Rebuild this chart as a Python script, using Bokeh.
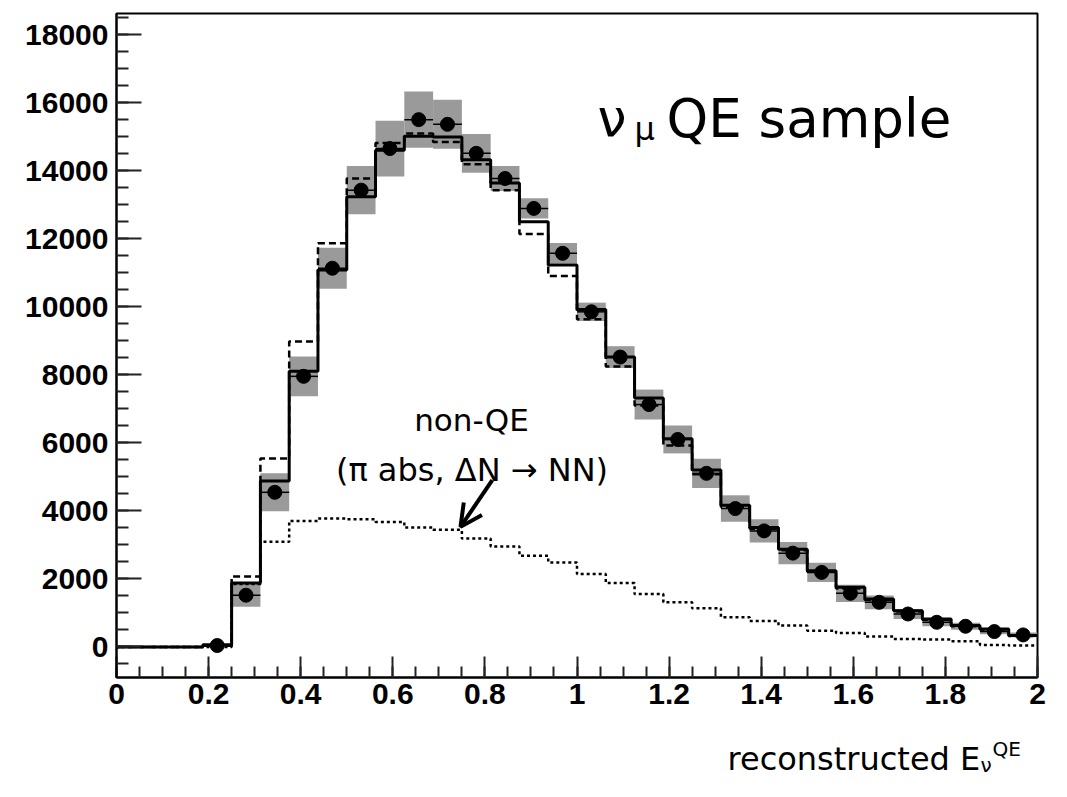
import numpy as np
from bokeh.plotting import figure
from bokeh.layouts import column
from bokeh.models import (Range1d, SingleIntervalTicker, CustomJSTickFormatter,
                          Label, Arrow, OpenHead)
from bokeh.embed import file_html
from bokeh.resources import INLINE

# Binning of reconstructed neutrino energy (GeV): 32 bins from 0 to 2
bin_width = 0.0625
n_bins = 32

# Observed events (black points); first bins are empty
data_counts = [None, None, None, 40, 1520, 4544, 7953, 11131, 13427, 14650,
               15500, 15362, 14510, 13770, 12890, 11570, 9850, 8520, 7124,
               6098, 5101, 4066, 3410, 2756, 2190, 1574, 1310, 967, 723, 606,
               450, 352]

# Systematic uncertainty on the observed events (grey band, +/-)
data_syst = [None, None, None, 0, 340, 560, 585, 600, 710, 820, 830, 720,
             570, 370, 300, 300, 270, 320, 440, 410, 430, 390, 340, 330, 280,
             255, 200, 150, 120, 100, 80, 70]

# Tuned MC prediction (solid)
mc_tuned = [0, 0, 0, 60, 1880, 4876, 8100, 11082, 13232, 14600, 15010, 14990,
            14323, 13640, 12500, 11229, 9920, 8520, 7320, 6117, 5199, 4163,
            3508, 2873, 2240, 1750, 1407, 1065, 820, 626, 528, 332]

# Nominal MC prediction (dashed)
mc_nominal = [0, 0, 0, 30, 2070, 5540, 8980, 11864, 13770, 14815, 15090,
              14843, 14190, 13427, 12137, 10906, 9630, 8246, 7095, 5922, 5072,
              4120, 3470, 2840, 2210, 1720, 1380, 1040, 800, 610, 510, 320]

# Non-QE background component (dotted)
mc_nonqe = [0, 0, 0, 0, 1850, 3088, 3703, 3772, 3752, 3674, 3508, 3440, 3187,
            2951, 2678, 2482, 2140, 1876, 1554, 1310, 1134, 870, 760, 626, 478,
            410, 302, 234, 214, 166, 59, 38]


def arr(vals):
    return np.array([np.nan if v is None else v for v in vals], dtype=float)


edges = np.arange(n_bins + 1) * bin_width
left, right = edges[:-1], edges[1:]
centers = 0.5 * (left + right)

d = arr(data_counts)
ds = arr(data_syst)

p = figure(width=1067, height=720, output_backend="svg", toolbar_location=None,
           x_range=Range1d(0, 2), y_range=Range1d(-900, 18620),
           min_border_left=116, min_border_right=30, min_border_top=13,
           min_border_bottom=43)
p.background_fill_color = "white"
p.border_fill_color = "white"
p.outline_line_color = "black"
p.outline_line_width = 2
p.xgrid.visible = False
p.ygrid.visible = False

# Axes: ROOT-style inward ticks
p.xaxis.ticker = SingleIntervalTicker(interval=0.2, num_minor_ticks=4)
p.yaxis.ticker = SingleIntervalTicker(interval=2000, num_minor_ticks=4)
fmt_code = "return String(Number(tick.toFixed(3)));"
p.xaxis.formatter = CustomJSTickFormatter(code=fmt_code)
p.yaxis.formatter = CustomJSTickFormatter(code=fmt_code)
for ax, maj, mnr in ((p.xaxis, 21, 11), (p.yaxis, 25, 12)):
    ax.major_tick_in = maj
    ax.major_tick_out = 0
    ax.minor_tick_in = mnr
    ax.minor_tick_out = 0
    ax.major_tick_line_width = 2
    ax.minor_tick_line_width = 2
    ax.major_tick_line_color = "#222222"
    ax.minor_tick_line_color = "#222222"
    ax.axis_line_width = 2
    ax.axis_line_color = "black"
    ax.major_label_text_font = "Liberation Sans"
    ax.major_label_text_font_style = "bold"
    ax.major_label_text_font_size = "30px"
    ax.major_label_text_color = "black"
p.xaxis.major_label_standoff = 6
p.yaxis.major_label_standoff = 8

# Systematic band on the observed points
p.quad(left=left, right=right, top=d + ds, bottom=d - ds,
       fill_color="#9a9a9a", line_color=None)

step_x = edges
def step_y(vals):
    v = np.array(vals, dtype=float)
    return np.append(v, v[-1])

p.step(step_x, step_y(mc_nonqe), mode="after", line_color="black",
       line_width=2.5, line_dash="3 3")
p.step(step_x, step_y(mc_nominal), mode="after", line_color="black",
       line_width=2.5, line_dash="7 4")
p.step(step_x, step_y(mc_tuned), mode="after", line_color="black",
       line_width=3)

# Observed points with bin-width bars
p.segment(x0=left, x1=right, y0=d, y1=d, line_color="black", line_width=1.5)
p.scatter(centers, d, size=14, color="black")

# Annotations
font = "DejaVu Sans"
def add_label(fig, x, y, text, size, align="left"):
    fig.add_layout(Label(x=x, y=y, text=text, text_font=font,
                         text_font_size=size, text_color="black",
                         text_align=align, text_baseline="alphabetic"))

add_label(p, 1.0445, 15540, "ν", "52px")
add_label(p, 1.125, 15215, "μ", "32px")
add_label(p, 1.1944, 15540, "QE sample", "53px")
add_label(p, 0.7709, 6663, "non-QE", "31px", align="center")
add_label(p, 0.7720, 5193, "(π abs, ΔN → NN)", "32px", align="center")

p.add_layout(Arrow(x_start=0.816, y_start=4900, x_end=0.747, y_end=3528,
                   line_width=4, line_color="black",
                   end=OpenHead(size=22, line_width=4, line_color="black")))

# Strip below the chart carrying the energy axis title; its frame is
# aligned with the chart frame, so x is given in page pixels
t = figure(width=1067, height=77, output_backend="svg", toolbar_location=None,
           x_range=Range1d(116, 1037), y_range=Range1d(0, 77),
           min_border=0, outline_line_color=None)
t.axis.visible = False
t.grid.visible = False
t.background_fill_color = "white"
t.border_fill_color = "white"
add_label(t, 727, 39, "reconstructed E", "32px")
add_label(t, 980, 33, "ν", "20px")
add_label(t, 992, 49, "QE", "20px")

open("out.html", "w").write(file_html(column(p, t), INLINE))
